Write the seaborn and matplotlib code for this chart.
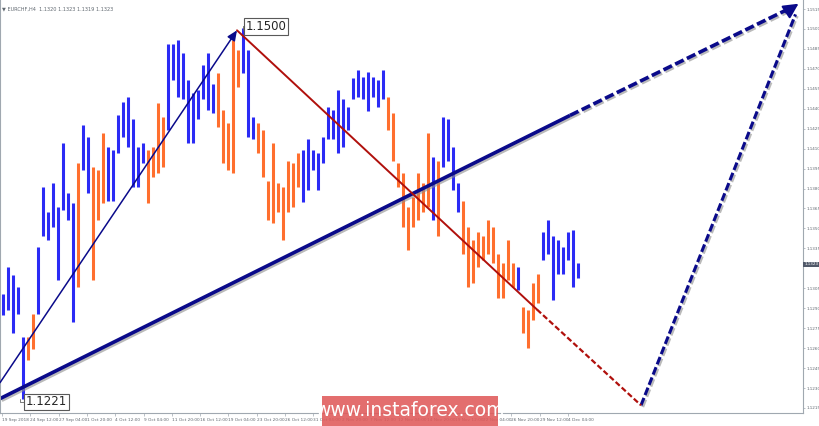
import matplotlib
matplotlib.use("Agg")
import matplotlib.pyplot as plt
import matplotlib.patheffects as pe
import numpy as np
import seaborn as sns

# EURCHF H4 bars (one bar per ~5 px column)
highs = [1.1301, 1.1321, 1.1315, 1.1306, 1.1268, 1.1268, 1.1286, 1.1336, 1.1381, 1.1362,
         1.1384, 1.1366, 1.1414, 1.1377, 1.1369, 1.1399, 1.1428, 1.1419, 1.1396, 1.1394,
         1.1422, 1.1411, 1.1409, 1.1435, 1.1445, 1.1449, 1.1432, 1.1411, 1.1414, 1.1409,
         1.1411, 1.1444, 1.1434, 1.1489, 1.1489, 1.1492, 1.1482, 1.1462, 1.1452, 1.1454,
         1.1473, 1.1482, 1.1459, 1.1467, 1.1439, 1.1429, 1.1492, 1.1484, 1.1501, 1.1484,
         1.1434, 1.1429, 1.1424, 1.1386, 1.1414, 1.1384, 1.1381, 1.1401, 1.1399, 1.1407,
         1.1409, 1.1417, 1.1409, 1.1407, 1.1419, 1.1441, 1.1439, 1.1454, 1.1447, 1.1441,
         1.1463, 1.1469, 1.1464, 1.1468, 1.1464, 1.1462, 1.1469, 1.1449, 1.1437, 1.1399,
         1.1392, 1.1366, 1.1374, 1.1392, 1.1384, 1.1422, 1.1404, 1.1401, 1.1434, 1.1432,
         1.1411, 1.1384, 1.1371, 1.1351, 1.1341, 1.1347, 1.1344, 1.1356, 1.1351, 1.1331,
         1.1324, 1.1341, 1.1324, 1.1321, 1.1291, 1.1289, 1.1309, 1.1316, 1.1347, 1.1356,
         1.1344, 1.1341, 1.1336, 1.1347, 1.1349, 1.1324]
lows = [1.1285, 1.1289, 1.1271, 1.1286, 1.1222, 1.1251, 1.1259, 1.1286, 1.1344, 1.1341,
        1.1351, 1.1311, 1.1364, 1.1356, 1.1280, 1.1306, 1.1394, 1.1377, 1.1311, 1.1356,
        1.1369, 1.1371, 1.1371, 1.1407, 1.1419, 1.1411, 1.1381, 1.1381, 1.1399, 1.1369,
        1.1389, 1.1392, 1.1396, 1.1424, 1.1462, 1.1449, 1.1447, 1.1414, 1.1414, 1.1432,
        1.1447, 1.1439, 1.1437, 1.1426, 1.1399, 1.1394, 1.1392, 1.1456, 1.1467, 1.1419,
        1.1417, 1.1407, 1.1389, 1.1356, 1.1354, 1.1362, 1.1341, 1.1362, 1.1366, 1.1381,
        1.1370, 1.1379, 1.1394, 1.1379, 1.1399, 1.1417, 1.1417, 1.1407, 1.1411, 1.1424,
        1.1447, 1.1449, 1.1447, 1.1438, 1.1449, 1.1441, 1.1447, 1.1424, 1.1401, 1.1381,
        1.1351, 1.1334, 1.1351, 1.1356, 1.1362, 1.1366, 1.1356, 1.1344, 1.1396, 1.1401,
        1.1379, 1.1362, 1.1331, 1.1306, 1.1309, 1.1321, 1.1326, 1.1331, 1.1324, 1.1298,
        1.1298, 1.1311, 1.1306, 1.1304, 1.1271, 1.1260, 1.1281, 1.1294, 1.1326, 1.1331,
        1.1296, 1.1316, 1.1316, 1.1326, 1.1306, 1.1313]
trend = ("BBBBBOOBBBBBBBBOBBOOOBBBBBBBBOOOOBBBBBBBBBBOOOOOBBBOOOOOOOOO"
         "BBBBBBBBBBBBBBBBBOOOOOOOOOBOBBBBOOOOOOOOOOOBOOOOBBBBBBBB")

date_labels = ["19 Sep 2018", "24 Sep 12:00", "27 Sep 04:00", "1 Oct 20:00", "4 Oct 12:00",
               "9 Oct 04:00", "11 Oct 20:00", "16 Oct 12:00", "19 Oct 04:00", "23 Oct 20:00",
               "26 Oct 12:00", "31 Oct 04:00", "2 Nov 20:00", "7 Nov 12:00", "12 Nov 04:00",
               "14 Nov 20:00", "19 Nov 12:00", "22 Nov 04:00", "26 Nov 20:00", "29 Nov 12:00",
               "4 Dec 04:00"]
price_ticks = [1.1515, 1.1500, 1.1485, 1.1470, 1.1455, 1.1440, 1.1425, 1.1410, 1.1395,
               1.1380, 1.1365, 1.1350, 1.1335, 1.1305, 1.1290, 1.1275, 1.1260, 1.1245,
               1.1230, 1.1215]
last_price = 1.1323

# wave markup (bar index, price)
low_pt = (-0.5, 1.1222)
arrow_start = (-0.5, 1.1234)
high_pt = (46.9, 1.1499)
red_break = (106.9, 1.1289)
target_low = (127.7, 1.1217)
target_high = (159.2, 1.1519)
base_break = (113.5, 1.1435)

sns.set_theme(style="white")
plt.rcParams["font.family"] = ["DejaVu Sans"]

fig = plt.figure(figsize=(8.2, 4.26), dpi=100)
ax = fig.add_axes([0, 13 / 426, 803 / 820, 413 / 426])
ax.set_xlim(-0.5, 160.1)
ax.set_ylim(1.12112, 1.15218)

colors = {"B": "#2b2bf5", "O": "#ff6f2e"}
idx = np.arange(len(highs))
ax.vlines(idx, lows, highs, colors=[colors[c] for c in trend], linewidth=2.2)

shadow = [pe.SimpleLineShadow(offset=(1.2, -1.2), shadow_color="0.55", alpha=0.6), pe.Normal()]
navy = "#0a0a8a"
darkred = "#b0100c"

# long base line, solid then dashed
ax.plot([low_pt[0], base_break[0]], [low_pt[1], base_break[1]], color=navy, lw=2.6,
        path_effects=shadow, solid_capstyle="butt")
ax.plot([base_break[0], target_high[0] - 1.5], [base_break[1], target_high[1] - 0.0003],
        color=navy, lw=2.6, dashes=(2.6, 1.0), path_effects=shadow)
# target leg
ax.plot([target_low[0], target_high[0] - 0.6], [target_low[1], target_high[1] - 0.0008],
        color=navy, lw=2.2, dashes=(2.6, 1.0), path_effects=shadow)
ax.annotate("", xy=target_high, xytext=(target_high[0] - 2.6, target_high[1] - 0.00065),
            arrowprops=dict(arrowstyle="-|>,head_length=0.75,head_width=0.38", color=navy,
                            lw=1.5, shrinkA=0, shrinkB=0))
# red down leg
ax.plot([high_pt[0], red_break[0]], [high_pt[1], red_break[1]], color=darkred, lw=1.4)
ax.plot([red_break[0], target_low[0]], [red_break[1], target_low[1]], color=darkred, lw=1.6,
        dashes=(2.5, 1.2))
# thin up arrow
ax.annotate("", xy=high_pt, xytext=arrow_start,
            arrowprops=dict(arrowstyle="-|>,head_length=0.5,head_width=0.22", color=navy, lw=1.1,
                            shrinkA=0, shrinkB=0))

# price labels
box = dict(boxstyle="square,pad=0.15", fc="white", ec="0.35", lw=0.8)
ax.text(48.6, 1.1502, "1.1500", fontsize=8.5, ha="left", va="center", bbox=box)
ax.plot([48.0, 48.0, 48.6], [1.1499, 1.1502, 1.1502], color="0.4", lw=0.6)
ax.text(4.6, 1.12195, "1.1221", fontsize=8.5, ha="left", va="center", bbox=box)
ax.plot([3.5, 3.5, 4.6], [1.1222, 1.12195, 1.12195], color="0.4", lw=0.6)

# axes styling (terminal look)
ax.spines["top"].set_visible(False)
for side in ["right", "bottom", "left"]:
    ax.spines[side].set_color("#a0a8b0")
    ax.spines[side].set_linewidth(0.8)
ax.yaxis.tick_right()
ax.set_yticks(price_ticks)
ax.set_yticklabels([f"{p:.4f}" for p in price_ticks])
ax.tick_params(axis="y", right=True, length=1.5, width=0.5, labelsize=3.0, labelcolor="#606870",
               color="#a0a8b0", pad=0.8)
xt = np.arange(len(date_labels)) * 5.66 - 0.1
ax.set_xticks(xt)
ax.set_xticklabels(date_labels, ha="left")
ax.tick_params(axis="x", bottom=True, length=2, width=0.5, labelsize=3.1, labelcolor="#606870",
               color="#a0a8b0", pad=1.5)
ax.grid(False)

ax.text(1.0015, (last_price - 1.12112) / (1.15218 - 1.12112), f"{last_price:.4f}",
        transform=ax.transAxes, fontsize=3.0, color="white", va="center", ha="left",
        bbox=dict(boxstyle="square,pad=0.2", fc="#505868", ec="none"))

ax.text(0.003, 0.985, "\u25bc EURCHF,H4  1.1320 1.1323 1.1319 1.1323", transform=ax.transAxes,
        fontsize=3.6, color="#606870", va="top", ha="left")

# watermark
fig.patches.append(plt.Rectangle((322 / 820, 0), 176 / 820, 30 / 426, transform=fig.transFigure,
                                 fc="#e05a5a", alpha=0.88, ec="none", zorder=10))
fig.text(410 / 820, 15 / 426, "www.instaforex.com", color="white", fontsize=13.5,
         ha="center", va="center", zorder=11)

fig.savefig("out.png", dpi=100)
